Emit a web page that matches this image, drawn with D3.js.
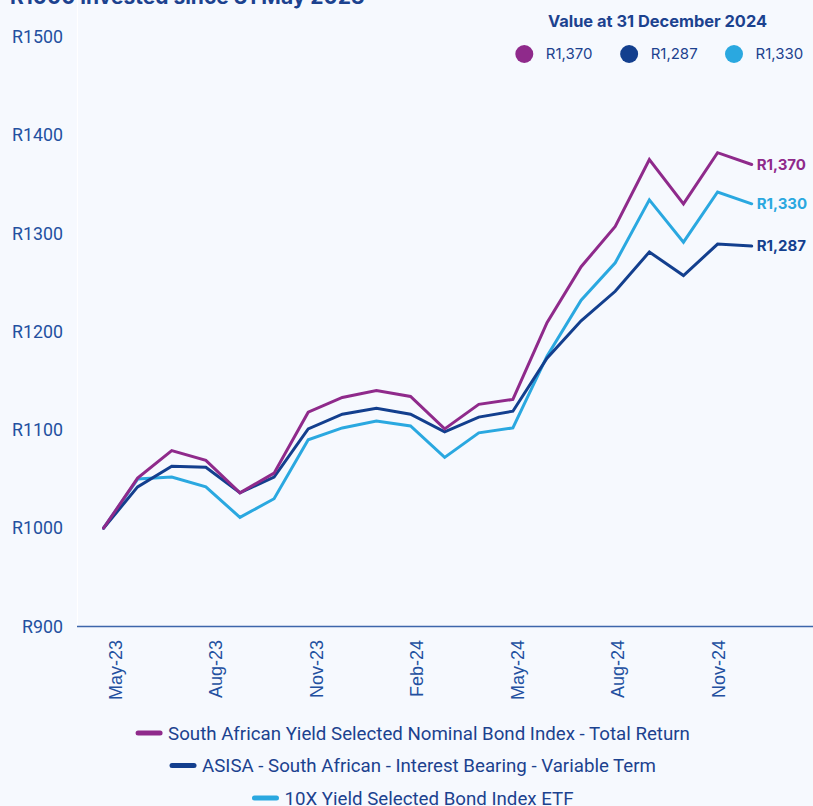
<!DOCTYPE html>
<html>
<head>
<meta charset="utf-8">
<script src="https://cdn.jsdelivr.net/npm/d3@7"></script>
<style>
  html, body { margin: 0; padding: 0; background: #f6f9fe; }
  svg { display: block; }
</style>
</head>
<body>
<svg id="chart" width="813" height="806"></svg>
<script>
"use strict";

// month-end values of R1000 invested since 31 May 2023
const months = ["May-23", "Jun-23", "Jul-23", "Aug-23", "Sep-23", "Oct-23", "Nov-23", "Dec-23",
    "Jan-24", "Feb-24", "Mar-24", "Apr-24", "May-24", "Jun-24", "Jul-24", "Aug-24",
    "Sep-24", "Oct-24", "Nov-24", "Dec-24"];

const nominalIndex = [1000, 1051, 1079, 1069, 1036, 1056, 1118, 1133, 1140, 1134,
    1101, 1126, 1131, 1209, 1266, 1307, 1375, 1330, 1382, 1370];
const asisaVariable = [1000, 1042, 1063, 1062, 1036, 1052, 1101, 1116, 1122, 1116,
    1098, 1113, 1119, 1173, 1211, 1241, 1281, 1257, 1289, 1287];
const etf10x = [1000, 1050, 1052, 1042, 1011, 1030, 1090, 1102, 1109, 1104,
    1072, 1097, 1102, 1175, 1232, 1270, 1334, 1291, 1342, 1330];

const seriesNames = [
    "South African Yield Selected Nominal Bond Index - Total Return",
    "ASISA - South African - Interest Bearing - Variable Term",
    "10X Yield Selected Bond Index ETF"
];
const finalLabels = ["R1,370", "R1,287", "R1,330"];
const yTicks = [900, 1000, 1100, 1200, 1300, 1400, 1500];
const xTickLabels = ["May-23", "Aug-23", "Nov-23", "Feb-24", "May-24", "Aug-24", "Nov-24"];

const colors = ["#8f2a8b", "#133f8e", "#2aa8e0"];
const textBlue = "#1c428f";

const series = [nominalIndex, asisaVariable, etf10x].map((values, k) => ({
    name: seriesNames[k], label: finalLabels[k], color: colors[k], values: values
}));

const svg = d3.select("#chart");

svg.append("rect")
    .attr("width", 813).attr("height", 806)
    .attr("fill", "#f6f9fe");

// title, mostly cropped off the top
svg.append("text")
    .attr("x", 10).attr("y", 4)
    .attr("font-family", "Inter, sans-serif")
    .attr("font-weight", 700)
    .attr("font-size", 21)
    .attr("fill", textBlue)
    .text("R1000 invested since 31 May 2023");

const xScale = d3.scaleLinear().domain([0, months.length - 1]).range([103.5, 751.7]);
const yScale = d3.scaleLinear().domain([900, 1500]).range([626.5, 36.7]);
// label positions of the category axis
const xLabelScale = d3.scaleLinear().domain([0, 18]).range([115.3, 718]);

// faint plot-area edge
svg.append("line")
    .attr("x1", 77.5).attr("x2", 77.5)
    .attr("y1", 0).attr("y2", 626)
    .attr("stroke", "#ffffff")
    .attr("stroke-width", 1.2);

const yAxis = svg.append("g")
    .attr("transform", "translate(77, 0)")
    .call(d3.axisLeft(yScale).tickValues(yTicks).tickSize(0).tickPadding(14)
        .tickFormat((d) => "R" + d));
yAxis.select(".domain").remove();
yAxis.selectAll("text")
    .attr("font-family", "Roboto, sans-serif")
    .attr("font-size", 17.8)
    .attr("fill", "#2350a0");

// x axis line
svg.append("line")
    .attr("x1", 77).attr("x2", 813)
    .attr("y1", yScale(900)).attr("y2", yScale(900))
    .attr("stroke", "#3d66ab")
    .attr("stroke-width", 1.5);

svg.append("g")
    .selectAll("text")
    .data(xTickLabels)
    .enter()
    .append("text")
    .attr("transform", (d) => `translate(${xLabelScale(months.indexOf(d))}, 640) rotate(-90)`)
    .attr("y", 6.5)
    .attr("text-anchor", "end")
    .attr("font-family", "'Liberation Sans', Arial, sans-serif")
    .attr("font-size", 18)
    .attr("fill", "#2350a0")
    .text((d) => d);

const line = d3.line()
    .x((d, i) => xScale(i))
    .y((d) => yScale(d));

const lineGroup = svg.append("g");
// draw the ETF first so the index sits on top, as in the source
[2, 1, 0].forEach((k) => {
    lineGroup.append("path")
        .datum(series[k].values)
        .attr("d", line)
        .attr("fill", "none")
        .attr("stroke", series[k].color)
        .attr("stroke-width", 3)
        .attr("stroke-linejoin", "miter")
        .attr("stroke-linecap", "round");
});

// end-of-line value labels
svg.append("g")
    .selectAll("text")
    .data(series)
    .enter()
    .append("text")
    .attr("x", (s) => xScale(s.values.length - 1) + 5)
    .attr("y", (s) => yScale(s.values[s.values.length - 1]))
    .attr("dy", "0.36em")
    .attr("font-family", "Inter, sans-serif")
    .attr("font-weight", 700)
    .attr("font-size", 15)
    .attr("fill", (s) => s.color)
    .text((s) => s.label);

// top legend
svg.append("text")
    .attr("x", 657.5).attr("y", 21)
    .attr("dy", "0.36em")
    .attr("text-anchor", "middle")
    .attr("font-family", "Inter, sans-serif")
    .attr("font-weight", 700)
    .attr("font-size", 16.4)
    .attr("fill", textBlue)
    .text("Value at 31 December 2024");

const topLegendX = d3.scalePoint().domain([0, 1, 2]).range([524.3, 734]);
const topLegend = svg.append("g")
    .selectAll("g")
    .data(series)
    .enter()
    .append("g")
    .attr("transform", (s, i) => `translate(${topLegendX(i)}, 54)`);
topLegend.append("circle")
    .attr("r", 9)
    .attr("fill", (s) => s.color);
topLegend.append("text")
    .attr("x", 21.5)
    .attr("dy", "0.36em")
    .attr("font-family", "Inter, sans-serif")
    .attr("font-size", 15)
    .attr("fill", textBlue)
    .text((s) => s.label);

// bottom legend, one centred row per series
const legendY = d3.scalePoint().domain([0, 1, 2]).range([733, 798]);
series.forEach((s, i) => {
    const row = svg.append("g");
    const label = row.append("text")
        .attr("y", legendY(i))
        .attr("dy", "0.36em")
        .attr("font-family", "Roboto, sans-serif")
        .attr("font-size", 18.7)
        .attr("fill", textBlue)
        .text(s.name);
    const w = label.node().getComputedTextLength();
    const start = 413 - (w + 32) / 2;
    label.attr("x", start + 32);
    row.append("line")
        .attr("x1", start + 2).attr("x2", start + 24)
        .attr("y1", legendY(i)).attr("y2", legendY(i))
        .attr("stroke", s.color)
        .attr("stroke-width", 5)
        .attr("stroke-linecap", "round");
});
</script>
</body>
</html>
